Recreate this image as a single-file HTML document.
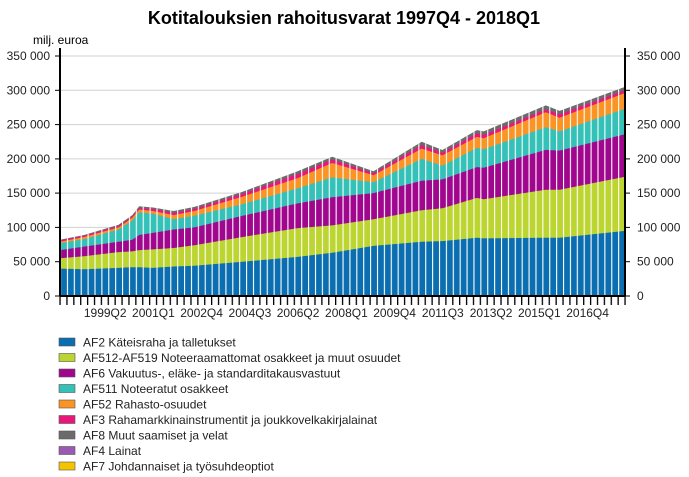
<!DOCTYPE html>
<html><head><meta charset="utf-8"><style>
body{margin:0;background:#fff;width:689px;height:477px;overflow:hidden}
svg{display:block}
</style></head><body>
<svg width="689" height="477" xmlns="http://www.w3.org/2000/svg" font-family="Liberation Sans, Arial, sans-serif">
<defs>
<pattern id="gap" patternUnits="userSpaceOnUse" x="60" y="0" width="6.8902" height="477">
<rect x="0" y="0" width="1.1" height="477" fill="#fff"/>
</pattern>
<clipPath id="cp"><polygon points="60,239.8 84.1,235.0 118.6,224.7 132.3,215.1 139.2,206.2 153.0,207.5 173.7,211.0 194.4,206.9 242.6,191.8 297.7,171.2 332.2,156.8 373.5,171.2 421.7,141.7 442.4,150.0 476.9,130.1 483.7,131.4 545.8,105.4 559.6,110.9 625,86.9 625,296 60,296"/></clipPath>
</defs>
<text x="344" y="24" text-anchor="middle" font-size="18" font-weight="bold" fill="#000">Kotitalouksien rahoitusvarat 1997Q4 - 2018Q1</text>
<text x="33" y="44" font-size="12" fill="#000">milj. euroa</text>
<g stroke="#d0d0d0">
<line x1="60" x2="625" y1="261.7" y2="261.7"/><line x1="60" x2="625" y1="227.4" y2="227.4"/><line x1="60" x2="625" y1="193.1" y2="193.1"/><line x1="60" x2="625" y1="158.9" y2="158.9"/><line x1="60" x2="625" y1="124.6" y2="124.6"/><line x1="60" x2="625" y1="90.3" y2="90.3"/><line x1="60" x2="625" y1="56" y2="56"/>
</g>
<polygon fill="#6b6b6b" points="60,239.8 84.1,235.0 118.6,224.7 132.3,215.1 139.2,206.2 153.0,207.5 173.7,211.0 194.4,206.9 242.6,191.8 297.7,171.2 332.2,156.8 373.5,171.2 421.7,141.7 442.4,150.0 476.9,130.1 483.7,131.4 545.8,105.4 559.6,110.9 625,86.9 625,296 60,296"/>
<polygon fill="#e8187a" points="60,240.5 84.1,235.7 118.6,226.1 132.3,216.5 139.2,208.2 153.0,208.9 173.7,213.0 194.4,208.9 242.6,193.8 297.7,174.0 332.2,159.5 373.5,173.3 421.7,145.1 442.4,152.7 476.9,133.5 483.7,134.9 545.8,109.5 559.6,114.3 625,90.3 625,296 60,296"/>
<polygon fill="#fa9424" points="60,241.8 84.1,237.0 118.6,227.4 132.3,217.8 139.2,209.6 153.0,211.0 173.7,215.1 194.4,211.0 242.6,196.6 297.7,178.1 332.2,163.0 373.5,175.3 421.7,148.6 442.4,155.4 476.9,136.9 483.7,138.3 545.8,112.2 559.6,117.7 625,93.0 625,296 60,296"/>
<polygon fill="#33c1b8" points="60,243.2 84.1,239.1 118.6,229.5 132.3,220.6 139.2,212.3 153.0,213.7 173.7,219.2 194.4,215.8 242.6,204.1 297.7,188.3 332.2,177.4 373.5,182.2 421.7,158.9 442.4,165.7 476.9,147.9 483.7,149.3 545.8,127.3 559.6,131.4 625,108.8 625,296 60,296"/>
<polygon fill="#a0078e" points="60,250.1 84.1,246.6 118.6,241.8 132.3,239.8 139.2,235.0 153.0,232.9 173.7,229.5 194.4,227.4 242.6,215.8 297.7,203.4 332.2,197.3 373.5,193.1 421.7,180.8 442.4,179.4 476.9,167.1 483.7,167.8 545.8,149.9 559.6,150.6 625,134.2 625,296 60,296"/>
<polygon fill="#bcd530" points="60,258.3 84.1,256.2 118.6,252.1 132.3,251.4 139.2,250.1 153.0,249.4 173.7,248.0 194.4,245.3 242.6,237.0 297.7,228.1 332.2,225.4 373.5,219.2 421.7,210.3 442.4,208.2 476.9,197.9 483.7,199.3 545.8,189.7 559.6,189.7 625,176.7 625,296 60,296"/>
<polygon fill="#0a6eb0" points="60,268.6 84.1,269.3 118.6,267.9 132.3,267.2 139.2,267.2 153.0,267.9 173.7,266.5 194.4,265.8 242.6,261.7 297.7,256.9 332.2,252.8 373.5,245.9 421.7,241.8 442.4,241.1 476.9,237.7 483.7,238.4 545.8,237.7 559.6,237.7 625,230.9 625,296 60,296"/>
<rect x="60" y="50" width="565" height="246" fill="url(#gap)" clip-path="url(#cp)"/>
<g font-size="12" fill="#222">
<text x="50" y="300" text-anchor="end">0</text><text x="50" y="265.7" text-anchor="end">50 000</text><text x="50" y="231.4" text-anchor="end">100 000</text><text x="50" y="197.1" text-anchor="end">150 000</text><text x="50" y="162.9" text-anchor="end">200 000</text><text x="50" y="128.6" text-anchor="end">250 000</text><text x="50" y="94.3" text-anchor="end">300 000</text><text x="50" y="60" text-anchor="end">350 000</text>
<text x="637" y="300">0</text><text x="637" y="265.7">50 000</text><text x="637" y="231.4">100 000</text><text x="637" y="197.1">150 000</text><text x="637" y="162.9">200 000</text><text x="637" y="128.6">250 000</text><text x="637" y="94.3">300 000</text><text x="637" y="60">350 000</text>
</g>
<g stroke="#000">
<line x1="55" x2="60" y1="296" y2="296"/><line x1="55" x2="60" y1="261.7" y2="261.7"/><line x1="55" x2="60" y1="227.4" y2="227.4"/><line x1="55" x2="60" y1="193.1" y2="193.1"/><line x1="55" x2="60" y1="158.9" y2="158.9"/><line x1="55" x2="60" y1="124.6" y2="124.6"/><line x1="55" x2="60" y1="90.3" y2="90.3"/><line x1="55" x2="60" y1="56" y2="56"/>
<line x1="625" x2="630" y1="296" y2="296"/><line x1="625" x2="630" y1="261.7" y2="261.7"/><line x1="625" x2="630" y1="227.4" y2="227.4"/><line x1="625" x2="630" y1="193.1" y2="193.1"/><line x1="625" x2="630" y1="158.9" y2="158.9"/><line x1="625" x2="630" y1="124.6" y2="124.6"/><line x1="625" x2="630" y1="90.3" y2="90.3"/><line x1="625" x2="630" y1="56" y2="56"/>
<line x1="60" x2="60" y1="48" y2="296" stroke-width="2"/><line x1="625" x2="625" y1="48" y2="296" stroke-width="2"/><line x1="60" x2="625" y1="296" y2="296" stroke-width="2"/>
</g>
<defs><pattern id="tk" patternUnits="userSpaceOnUse" x="59.4" y="0" width="6.8902" height="477"><rect x="0" y="0" width="1.3" height="477" fill="#000"/></pattern></defs>
<rect x="59" y="296" width="567.5" height="9" fill="url(#tk)"/>
<g font-size="12" fill="#222" text-anchor="middle">
<text x="105.2" y="317">1999Q2</text><text x="153.4" y="317">2001Q1</text><text x="201.6" y="317">2002Q4</text><text x="249.9" y="317">2004Q3</text><text x="298.1" y="317">2006Q2</text><text x="346.4" y="317">2008Q1</text><text x="394.6" y="317">2009Q4</text><text x="442.8" y="317">2011Q3</text><text x="491.1" y="317">2013Q2</text><text x="539.3" y="317">2015Q1</text><text x="587.6" y="317">2016Q4</text>
</g>
<g font-size="12" fill="#222" stroke-width="0.6">
<rect x="59" y="338" width="16" height="8" fill="#0a6eb0" stroke="#555"/><text x="83" y="346.5">AF2 Käteisraha ja talletukset</text>
<rect x="59" y="353.5" width="16" height="8" fill="#bcd530" stroke="#555"/><text x="83" y="362">AF512-AF519 Noteeraamattomat osakkeet ja muut osuudet</text>
<rect x="59" y="369" width="16" height="8" fill="#a0078e" stroke="#555"/><text x="83" y="377.5">AF6 Vakuutus-, eläke- ja standarditakausvastuut</text>
<rect x="59" y="384.5" width="16" height="8" fill="#33c1b8" stroke="#555"/><text x="83" y="393">AF511 Noteeratut osakkeet</text>
<rect x="59" y="400" width="16" height="8" fill="#fa9424" stroke="#555"/><text x="83" y="408.5">AF52 Rahasto-osuudet</text>
<rect x="59" y="415.5" width="16" height="8" fill="#e8187a" stroke="#555"/><text x="83" y="424">AF3 Rahamarkkinainstrumentit ja joukkovelkakirjalainat</text>
<rect x="59" y="431" width="16" height="8" fill="#6b6b6b" stroke="#555"/><text x="83" y="439.5">AF8 Muut saamiset ja velat</text>
<rect x="59" y="446.5" width="16" height="8" fill="#9b59b6" stroke="#555"/><text x="83" y="455">AF4 Lainat</text>
<rect x="59" y="462" width="16" height="8" fill="#f5c400" stroke="#555"/><text x="83" y="470.5">AF7 Johdannaiset ja työsuhdeoptiot</text>
</g>
</svg>
</body></html>
